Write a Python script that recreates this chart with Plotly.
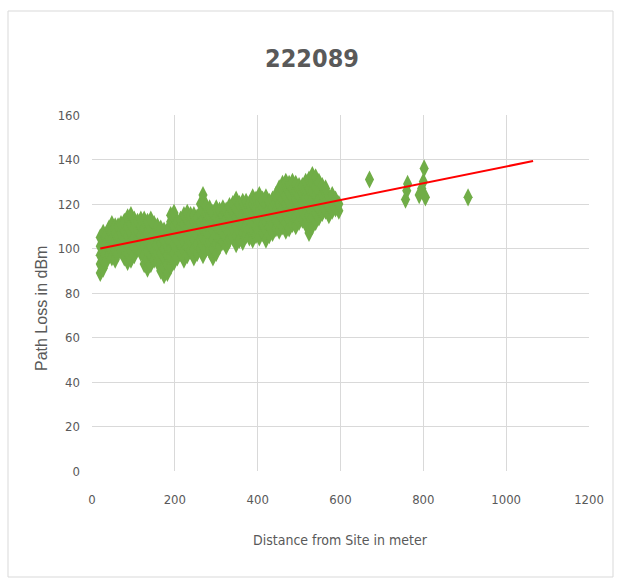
import plotly.graph_objects as go

# ---- data ----
title_text = "222089"
x_title = "Distance from Site in meter"
y_title = "Path Loss in dBm"
x_ticks = [0, 200, 400, 600, 800, 1000, 1200]
y_ticks = [0, 20, 40, 60, 80, 100, 120, 140, 160]

# measured points, grouped by distance column (distance, [path loss values])
cloud_columns = [
    (20, [89, 93, 97, 101, 105]),
    (27, [91, 95, 99, 103, 107]),
    (34, [94, 98, 102, 106]),
    (41, [97, 101, 105, 109]),
    (48, [96, 100, 104, 108, 111]),
    (56, [95, 99, 103, 107, 110]),
    (63, [98, 102, 106, 110]),
    (70, [99, 103, 107, 111]),
    (78, [96, 100, 104, 108, 112]),
    (86, [94, 98, 102, 106, 110, 114]),
    (94, [95, 99, 103, 107, 111, 115]),
    (102, [97, 101, 105, 109, 113]),
    (110, [100, 104, 108, 112]),
    (118, [98, 102, 106, 110, 113]),
    (126, [93, 97, 101, 105, 109, 113]),
    (134, [91, 95, 99, 103, 107, 112]),
    (142, [93, 97, 101, 105, 109, 113]),
    (150, [95, 99, 103, 107, 111]),
    (158, [94, 98, 102, 106, 110]),
    (166, [90, 94, 98, 102, 106, 109]),
    (174, [88, 92, 96, 100, 104, 108]),
    (182, [89, 93, 97, 101, 105, 108]),
    (190, [92, 96, 100, 104, 108, 112, 115]),
    (198, [94, 98, 102, 106, 110, 114, 116]),
    (206, [96, 100, 104, 108, 112]),
    (214, [98, 102, 106, 110, 113]),
    (222, [95, 99, 103, 107, 111, 115]),
    (230, [97, 101, 105, 109, 113, 116]),
    (238, [99, 103, 107, 111, 115]),
    (246, [96, 100, 104, 108, 112, 115]),
    (254, [98, 102, 106, 110, 114]),
    (262, [100, 104, 108, 112, 116, 120]),
    (268, [97, 101, 105, 109, 113, 117, 121, 124]),
    (276, [100, 104, 108, 112, 116, 119]),
    (284, [99, 103, 107, 111, 115, 118]),
    (292, [96, 100, 104, 108, 112, 116]),
    (300, [98, 102, 106, 110, 114, 118]),
    (308, [101, 105, 109, 113, 117]),
    (316, [103, 107, 111, 115, 118]),
    (324, [101, 105, 109, 113, 117]),
    (332, [104, 108, 112, 116, 119]),
    (340, [105, 109, 113, 117, 120]),
    (348, [102, 106, 110, 114, 118, 122]),
    (356, [104, 108, 112, 116, 120]),
    (364, [103, 107, 111, 115, 119, 121]),
    (372, [106, 110, 114, 118, 121]),
    (380, [105, 109, 113, 117, 120]),
    (388, [104, 108, 112, 116, 120, 123]),
    (396, [106, 110, 114, 118, 122]),
    (404, [105, 109, 113, 117, 121, 124]),
    (412, [107, 111, 115, 119, 122]),
    (420, [104, 108, 112, 116, 120, 123]),
    (428, [106, 110, 114, 118, 121]),
    (436, [107, 111, 115, 119, 122]),
    (444, [109, 113, 117, 121, 124]),
    (452, [108, 112, 116, 120, 124, 127]),
    (460, [110, 114, 118, 122, 126, 129]),
    (468, [108, 112, 116, 120, 124, 128, 130]),
    (476, [109, 113, 117, 121, 125, 129]),
    (484, [111, 115, 119, 123, 127, 130]),
    (492, [110, 114, 118, 122, 126, 129]),
    (500, [112, 116, 120, 124, 128]),
    (508, [113, 117, 121, 125, 128]),
    (516, [111, 115, 119, 123, 127, 130]),
    (524, [107, 111, 115, 119, 123, 127, 131]),
    (532, [110, 114, 118, 122, 126, 130, 133]),
    (540, [112, 116, 120, 124, 128, 132]),
    (548, [114, 118, 122, 126, 130]),
    (556, [116, 120, 124, 128]),
    (564, [117, 121, 125, 127]),
    (572, [115, 119, 123]),
    (580, [117, 121, 124]),
    (588, [118, 122]),
    (596, [117, 120]),
]

outlier_dist = [670, 757, 760, 762, 790, 796, 800, 802, 805, 908]
outlier_loss = [131, 122, 126, 129, 124, 127, 130, 136, 123, 123]

trend_dist = [20, 1065]
trend_loss = [100, 139.3]

dist = []
loss = []
for d, ys in cloud_columns:
    for y in ys:
        dist.append(d)
        loss.append(y)
dist += outlier_dist
loss += outlier_loss

GREEN = "#70AD47"
TEXT = "#595959"
GRID = "#D9D9D9"
NARROW = "DejaVu Sans Condensed, Liberation Sans Narrow, Arial Narrow, sans-serif"

fig = go.Figure()
fig.add_trace(go.Scatter(
    x=dist, y=loss, mode="markers",
    marker=dict(symbol="diamond-tall", size=13, color=GREEN, line=dict(width=0)),
    showlegend=False, hoverinfo="skip",
))
fig.add_trace(go.Scatter(
    x=trend_dist, y=trend_loss, mode="lines",
    line=dict(color="#FF0000", width=2),
    showlegend=False, hoverinfo="skip",
))

W, H = 624, 582
L, R, T, B = 92, 35, 115, 111
pw, ph = W - L - R, H - T - B

fig.update_layout(
    width=W, height=H,
    margin=dict(l=L, r=R, t=T, b=B, pad=0),
    paper_bgcolor="white", plot_bgcolor="white",
    title=dict(text="<b>" + title_text + "</b>", x=0.5, xanchor="center",
               y=1 - 58 / H, yanchor="middle",
               font=dict(family=NARROW, size=25, color=TEXT)),
    xaxis=dict(range=[0, 1200], tickvals=x_ticks, ticktext=[str(v) for v in x_ticks],
               showgrid=True, gridcolor=GRID, gridwidth=1,
               zeroline=False, showline=False, ticks="",
               ticklabelstandoff=19,
               tickfont=dict(family=NARROW, size=13, color=TEXT)),
    yaxis=dict(range=[0, 160], tickvals=y_ticks, ticktext=[str(v) for v in y_ticks],
               showgrid=True, gridcolor=GRID, gridwidth=1,
               zeroline=False, showline=False, ticks="",
               ticklabelstandoff=11,
               tickfont=dict(family=NARROW, size=13, color=TEXT)),
    annotations=[
        dict(text=x_title, xref="paper", yref="paper", x=0.5, y=0,
             xanchor="center", yanchor="middle", yshift=-69, showarrow=False,
             font=dict(family=NARROW, size=14, color=TEXT)),
        dict(text=y_title, xref="paper", yref="paper", x=0, y=0.5,
             xanchor="center", yanchor="middle", xshift=-51, yshift=-16,
             textangle=-90, showarrow=False,
             font=dict(family="Liberation Sans, Arial, sans-serif", size=16, color=TEXT)),
    ],
    shapes=[
        dict(type="rect", xref="paper", yref="paper",
             x0=(8 - L) / pw, x1=(613 - L) / pw,
             y0=-(577 - (H - B)) / ph, y1=((H - B) - 11) / ph,
             line=dict(color=GRID, width=1), fillcolor="rgba(0,0,0,0)", layer="below"),
    ],
)

fig.write_html("out.html")
